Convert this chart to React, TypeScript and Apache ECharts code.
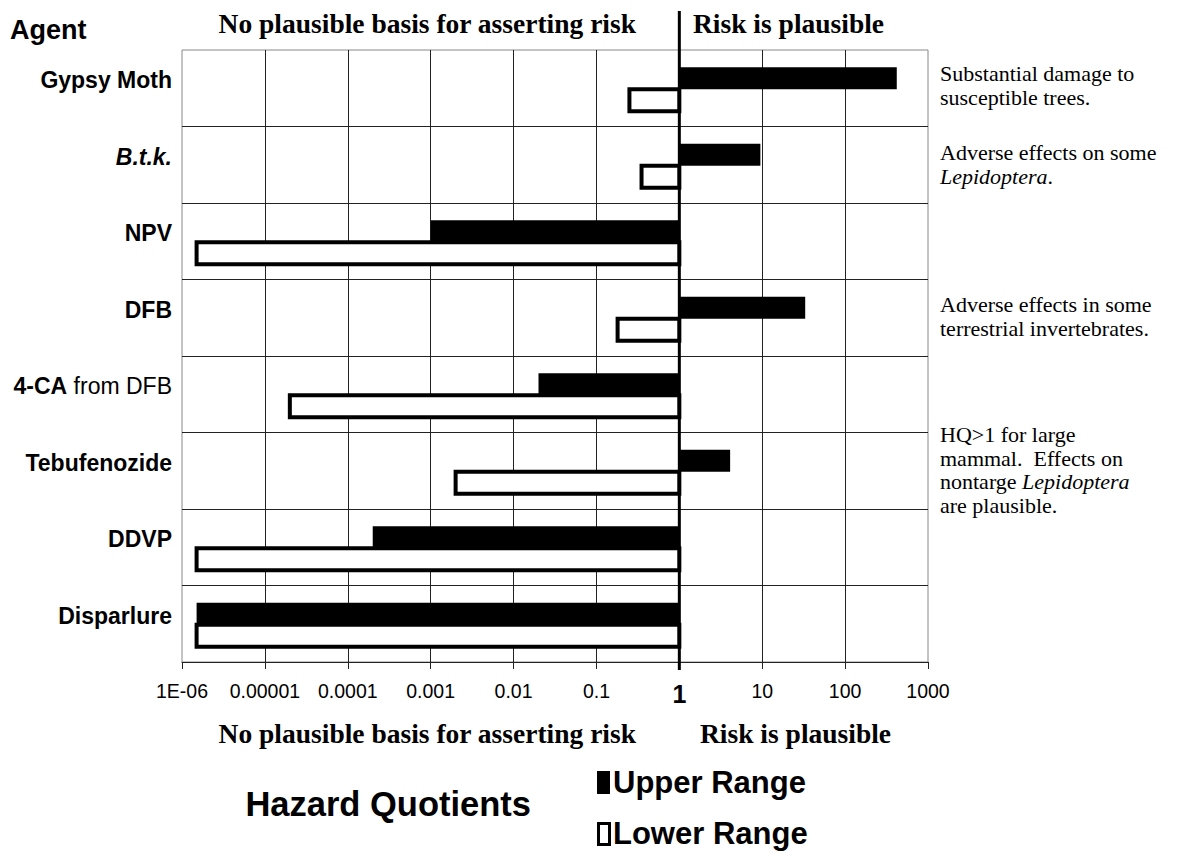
import React, { useEffect, useRef } from "react";
import * as echarts from "echarts";

const agents = ["Gypsy Moth", "B.t.k.", "NPV", "DFB", "4-CA from DFB", "Tebufenozide", "DDVP", "Disparlure"];
const upperRange = [420, 9.5, 0.001, 33, 0.02, 4.1, 0.0002, 0.0000015];
const lowerRange = [0.25, 0.35, 0.0000015, 0.18, 0.00002, 0.002, 0.0000015, 0.0000015];
const tickLabels = ["1E-06", "0.00001", "0.0001", "0.001", "0.01", "0.1", "1", "10", "100", "1000"];
const referenceValue = 1;
const leftHeading = "No plausible basis for asserting risk";
const rightHeading = "Risk is plausible";

const SANS = "'Liberation Sans', Arial, sans-serif";
const SERIF = "'Liberation Serif', 'Times New Roman', serif";

function agentLabel(name: string): string {
  if (name === "B.t.k.") return "{bi|B.t.k.}";
  if (name === "4-CA from DFB") return "{b|4-CA}{r| from DFB}";
  return "{b|" + name + "}";
}

function makeRender(kind: "upper" | "lower") {
  return (params: any, api: any) => {
    const v = api.value(0);
    const cat = api.value(1);
    const p1 = api.coord([referenceValue, cat]);
    const p2 = api.coord([v, cat]);
    const x = Math.min(p1[0], p2[0]);
    const w = Math.abs(p2[0] - p1[0]);
    if (kind === "upper") {
      return {
        type: "rect",
        shape: { x, y: p1[1] - 21, width: w, height: 22 },
        style: { fill: "#000" },
      };
    }
    return {
      type: "rect",
      shape: { x, y: p1[1] + 1, width: w, height: 22 },
      style: { fill: "#fff", stroke: "#000", lineWidth: 4 },
    };
  };
}

export default function App() {
  const ref = useRef<HTMLDivElement>(null);
  useEffect(() => {
    if (!ref.current) return;
    const chart = echarts.init(ref.current, undefined, { renderer: "svg" });
    chart.setOption({
      animation: false,
      backgroundColor: "#fff",
      grid: { left: 182, right: 259, top: 50, bottom: 193, show: true, borderColor: "#888", borderWidth: 1 },
      xAxis: {
        type: "log",
        logBase: 10,
        min: 0.000001,
        max: 1000,
        splitNumber: 9,
        axisLine: { show: true, lineStyle: { color: "#222", width: 1 } },
        axisTick: { show: true, length: 7, lineStyle: { color: "#222" } },
        minorTick: { show: false },
        splitLine: { show: true, showMinLine: false, showMaxLine: false, lineStyle: { color: "#222", width: 1 } },
        axisLabel: {
          margin: 19,
          color: "#000",
          fontFamily: SANS,
          fontSize: 19.5,
          formatter: (v: number) => {
            const idx = Math.round(Math.log10(v)) + 6;
            const t = tickLabels[idx] ?? "";
            return t === "1" ? "{one|1}" : t;
          },
          rich: { one: { fontSize: 25, fontWeight: "bold", fontFamily: SANS, color: "#000" } },
        },
      },
      yAxis: {
        type: "category",
        data: agents,
        inverse: true,
        axisLine: { show: false },
        axisTick: { show: false },
        splitLine: { show: true, showMinLine: false, showMaxLine: false, lineStyle: { color: "#222", width: 1 } },
        axisLabel: {
          margin: 10,
          padding: [0, 0, 16, 0],
          formatter: (v: string) => agentLabel(v),
          rich: {
            b: { fontFamily: SANS, fontWeight: "bold", fontSize: 23, color: "#000" },
            bi: { fontFamily: SANS, fontWeight: "bold", fontStyle: "italic", fontSize: 23, color: "#000" },
            r: { fontFamily: SANS, fontWeight: "normal", fontSize: 23, color: "#000" },
          },
        },
      },
      series: [
        {
          name: "Upper Range",
          type: "custom",
          renderItem: makeRender("upper"),
          encode: { x: 0, y: 1 },
          data: upperRange.map((v, i) => [v, i]),
          z: 3,
        },
        {
          name: "Lower Range",
          type: "custom",
          renderItem: makeRender("lower"),
          encode: { x: 0, y: 1 },
          data: lowerRange.map((v, i) => [v, i]),
          z: 4,
        },
      ],
    });

    const refX = chart.convertToPixel({ xAxisIndex: 0 }, referenceValue) as number;
    const titleFont = { fontFamily: SERIF, fontWeight: "bold", fontSize: 27.5, fill: "#000" };
    const noteRich = {
      n: { fontFamily: SERIF, fontSize: 22, fill: "#000", lineHeight: 23.5 },
      i: { fontFamily: SERIF, fontSize: 22, fontStyle: "italic", fill: "#000", lineHeight: 23.5 },
    };
    const note = (x: number, y: number, text: string) => ({
      type: "text",
      x,
      y,
      style: { text, rich: noteRich, verticalAlign: "top", align: "left" },
    });
    chart.setOption({
      graphic: [
        { type: "line", shape: { x1: refX, y1: 11, x2: refX, y2: 670 }, style: { stroke: "#000", lineWidth: 3 }, z: 100 },
        { type: "text", x: 10, y: 30, style: { text: "Agent", fontFamily: SANS, fontWeight: "bold", fontSize: 27, fill: "#000", verticalAlign: "middle" } },
        { type: "text", x: 636, y: 23, style: { text: leftHeading, ...titleFont, align: "right", verticalAlign: "middle" } },
        { type: "text", x: 693, y: 23, style: { text: rightHeading, ...titleFont, align: "left", verticalAlign: "middle" } },
        { type: "text", x: 636, y: 733, style: { text: leftHeading, ...titleFont, align: "right", verticalAlign: "middle" } },
        { type: "text", x: 700, y: 733, style: { text: rightHeading, ...titleFont, align: "left", verticalAlign: "middle" } },
        note(940, 62, "{n|Substantial damage to}\n{n|susceptible trees.}"),
        note(940, 141, "{n|Adverse effects on some}\n{i|Lepidoptera}{n|.}"),
        note(940, 293, "{n|Adverse effects in some}\n{n|terrestrial invertebrates.}"),
        note(940, 423, "{n|HQ>1 for large}\n{n|mammal.  Effects on}\n{n|nontarge }{i|Lepidoptera}\n{n|are plausible.}"),
        { type: "text", x: 531, y: 804, style: { text: "Hazard Quotients", fontFamily: SANS, fontWeight: "bold", fontSize: 34.5, fill: "#000", align: "right", verticalAlign: "middle" } },
        { type: "rect", shape: { x: 597, y: 771, width: 13, height: 23 }, style: { fill: "#000" } },
        { type: "text", x: 613, y: 782, style: { text: "Upper Range", fontFamily: SANS, fontWeight: "bold", fontSize: 31, fill: "#000", verticalAlign: "middle" } },
        { type: "rect", shape: { x: 598.5, y: 823.5, width: 11, height: 21 }, style: { fill: "#fff", stroke: "#000", lineWidth: 3 } },
        { type: "text", x: 613, y: 833, style: { text: "Lower Range", fontFamily: SANS, fontWeight: "bold", fontSize: 31, fill: "#000", verticalAlign: "middle" } },
      ],
    });

    return () => chart.dispose();
  }, []);
  return <div ref={ref} style={{ width: 1187, height: 855, position: "absolute", left: 0, top: 0 }} />;
}
